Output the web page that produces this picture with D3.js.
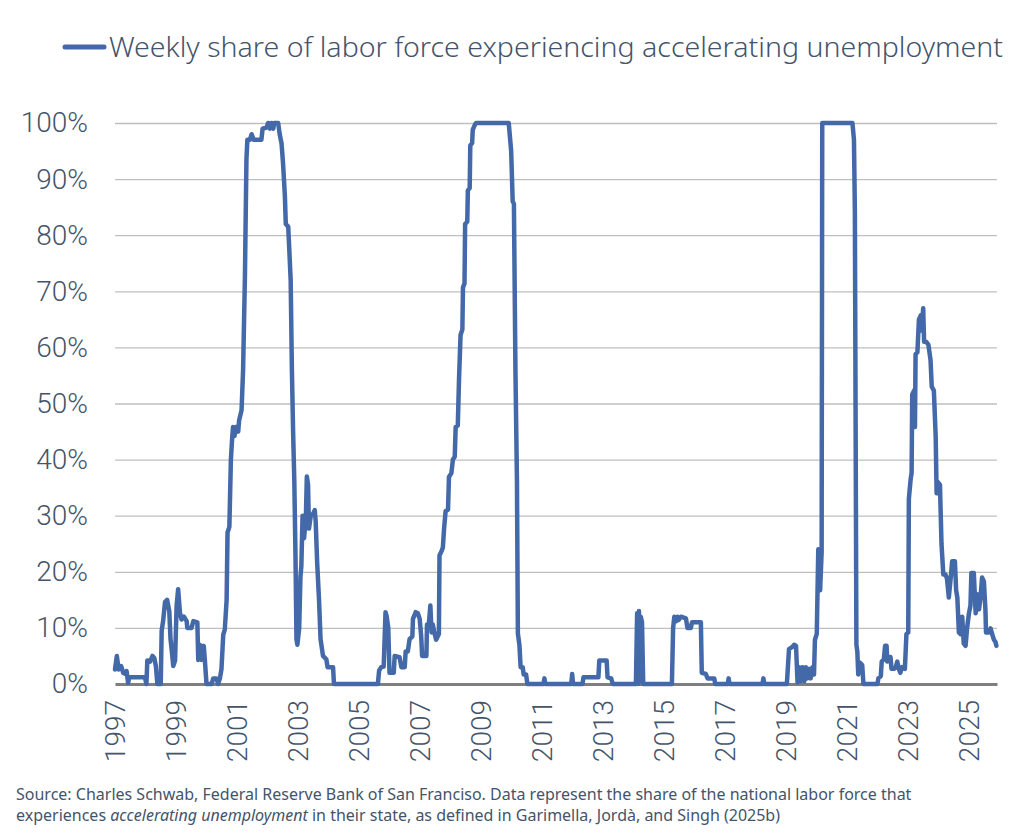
<!DOCTYPE html>
<html>
<head>
<meta charset="utf-8">
<script src="https://cdn.jsdelivr.net/npm/d3@7"></script>
<style>
  body { margin: 0; background: #fff; }
  #viz { width: 1021px; height: 834px; }
  text { font-family: "Noto Sans", Roboto, sans-serif; fill: #44546a; }
</style>
</head>
<body>
<div id="viz"></div>
<script>
// week position as decimal year
var weekYears = [
  1997.00, 1997.06, 1997.12, 1997.20, 1997.27, 1997.33, 1997.38, 1997.43, 1997.47, 1997.98,
  1998.03, 1998.06, 1998.15, 1998.23, 1998.29, 1998.34, 1998.39, 1998.50, 1998.53, 1998.58,
  1998.64, 1998.71, 1998.78, 1998.82, 1998.86, 1998.91, 1998.97, 1999.02, 1999.07, 1999.13,
  1999.18, 1999.26, 1999.35, 1999.37, 1999.51, 1999.57, 1999.70, 1999.73, 1999.78, 1999.84,
  1999.91, 1999.95, 2000.00, 2000.17, 2000.22, 2000.33, 2000.38, 2000.44, 2000.49, 2000.55,
  2000.60, 2000.66, 2000.69, 2000.75, 2000.80, 2000.84, 2000.87, 2000.92, 2000.96, 2001.04,
  2001.07, 2001.15, 2001.20, 2001.26, 2001.31, 2001.34, 2001.42, 2001.48, 2001.55, 2001.80,
  2001.84, 2001.97, 2002.02, 2002.08, 2002.13, 2002.19, 2002.22, 2002.35, 2002.40, 2002.46,
  2002.51, 2002.57, 2002.60, 2002.68, 2002.71, 2002.76, 2002.80, 2002.84, 2002.88, 2002.92,
  2002.95, 2002.98, 2003.04, 2003.08, 2003.11, 2003.15, 2003.20, 2003.26, 2003.29, 2003.33,
  2003.36, 2003.42, 2003.50, 2003.55, 2003.58, 2003.63, 2003.69, 2003.74, 2003.82, 2003.93,
  2003.97, 2004.15, 2004.18, 2005.62, 2005.66, 2005.73, 2005.81, 2005.87, 2005.91, 2005.96,
  2006.00, 2006.14, 2006.17, 2006.33, 2006.39, 2006.50, 2006.53, 2006.60, 2006.66, 2006.75,
  2006.77, 2006.86, 2006.93, 2006.99, 2007.04, 2007.07, 2007.21, 2007.23, 2007.29, 2007.34,
  2007.38, 2007.42, 2007.47, 2007.53, 2007.62, 2007.64, 2007.70, 2007.75, 2007.79, 2007.84,
  2007.92, 2007.95, 2008.03, 2008.08, 2008.14, 2008.17, 2008.24, 2008.28, 2008.33, 2008.39,
  2008.41, 2008.46, 2008.48, 2008.55, 2008.57, 2008.63, 2008.65, 2008.71, 2008.73, 2008.81,
  2008.84, 2009.91, 2009.99, 2010.04, 2010.08, 2010.13, 2010.18, 2010.21, 2010.26, 2010.30,
  2010.37, 2010.40, 2010.48, 2010.52, 2011.05, 2011.08, 2011.11, 2011.96, 2011.99, 2012.02,
  2012.33, 2012.36, 2012.85, 2012.88, 2013.12, 2013.15, 2013.27, 2013.32, 2014.08, 2014.12,
  2014.15, 2014.18, 2014.21, 2014.24, 2014.28, 2014.32, 2015.26, 2015.30, 2015.34, 2015.40,
  2015.44, 2015.48, 2015.56, 2015.72, 2015.77, 2015.88, 2015.92, 2016.21, 2016.24, 2016.37,
  2016.43, 2016.65, 2016.68, 2017.09, 2017.12, 2017.15, 2018.23, 2018.26, 2018.29, 2019.03,
  2019.10, 2019.21, 2019.27, 2019.33, 2019.38, 2019.43, 2019.48, 2019.54, 2019.60, 2019.65,
  2019.70, 2019.76, 2019.81, 2019.87, 2019.92, 2019.95, 2020.01, 2020.06, 2020.12, 2020.17,
  2020.19, 2021.18, 2021.23, 2021.26, 2021.31, 2021.34, 2021.37, 2021.43, 2021.50, 2021.54,
  2022.00, 2022.03, 2022.11, 2022.14, 2022.21, 2022.25, 2022.30, 2022.32, 2022.38, 2022.43,
  2022.46, 2022.55, 2022.60, 2022.65, 2022.70, 2022.75, 2022.81, 2022.90, 2022.95, 2023.01,
  2023.03, 2023.09, 2023.12, 2023.14, 2023.20, 2023.23, 2023.25, 2023.31, 2023.36, 2023.42,
  2023.45, 2023.50, 2023.53, 2023.60, 2023.67, 2023.74, 2023.78, 2023.85, 2023.91, 2023.94,
  2023.98, 2024.05, 2024.10, 2024.16, 2024.23, 2024.28, 2024.34, 2024.40, 2024.45, 2024.54,
  2024.58, 2024.62, 2024.67, 2024.72, 2024.78, 2024.83, 2024.89, 2024.94, 2025.00, 2025.05,
  2025.08, 2025.16, 2025.22, 2025.27, 2025.33, 2025.38, 2025.43, 2025.49, 2025.54, 2025.56,
  2025.65, 2025.71, 2025.76, 2025.82, 2025.87, 2025.90
];

// share of labor force (%), same order as weekYears
var shareValues = [
  2.6, 5.0, 2.6, 3.2, 2.0, 1.8, 2.3, 0.2, 1.2, 1.2,
  0, 4.2, 4.0, 5.0, 4.6, 3.2, 0, 0, 9.5, 11.3,
  14.6, 15.0, 13.0, 8.0, 6.0, 3.2, 4.2, 13.9, 16.9, 12.7,
  11.5, 12.0, 11.2, 10.0, 10.0, 11.2, 11.0, 4.3, 7.0, 4.3,
  6.8, 4.0, 0, 0, 1.0, 1.0, 0, 1.0, 2.6, 8.8,
  9.7, 15, 27, 28, 40, 43.7, 45.8, 44.2, 45.8, 45,
  47, 48.8, 56, 72.6, 93.5, 97, 97, 98, 97, 97,
  99, 99.2, 100, 99, 100, 99, 100, 100, 98, 96.4,
  92.8, 87, 82, 81.5, 78, 72, 56, 45, 36, 22,
  8, 7, 10, 19, 21, 30, 26, 30, 37, 35.5,
  27.7, 30, 30.4, 31, 29, 21.5, 15, 8, 5, 4.4,
  3, 3, 0, 0, 2.4, 3, 3.1, 12.8, 12, 10,
  2, 2, 5, 4.8, 3, 3, 5.8, 5.8, 8, 8.5,
  11.6, 12.8, 12.6, 11.6, 8.5, 5, 5, 10.6, 10.6, 14,
  9.2, 10.6, 9.2, 7.9, 8.9, 22.9, 23.6, 24.3, 27.7, 30.8,
  31.1, 36.9, 37.6, 40, 40.5, 45.8, 46.1, 54.3, 62.2, 63.2,
  70.7, 71.4, 82, 82.4, 88, 88.4, 96, 96.4, 98.8, 99.8,
  100, 100, 95, 86, 85.6, 56, 36, 9, 7, 3,
  3, 1.7, 1.7, 0, 0, 1, 0, 0, 1.8, 0,
  0, 1.2, 1.2, 4.2, 4.2, 1.2, 1.0, 0, 0, 12.6,
  0, 13, 0.5, 12, 11, 0, 0, 10, 12, 11.2,
  12, 11.4, 12, 11.7, 10, 10, 11, 11, 2, 1.8,
  1, 1, 0, 0, 1, 0, 0, 1, 0, 0,
  6.2, 6.6, 7.0, 6.8, 0.3, 3, 0.5, 3, 0.5, 3,
  1, 2.7, 1, 3, 1.7, 7.9, 8.9, 24, 16.7, 23.5,
  100, 100, 97, 84, 7, 5.8, 1.7, 3.8, 3.4, 0,
  0, 1, 1.4, 4, 4.4, 6.8, 6.8, 4, 4.8, 4.8,
  2.7, 2.7, 3, 4, 2.7, 2, 3, 2.7, 8.9, 9.2,
  33, 36.6, 37.6, 51.6, 52.3, 45.8, 58.8, 59.1, 65, 65.7,
  63, 67, 61, 61, 60.5, 57.8, 53, 52.3, 44, 34,
  36, 35.5, 25, 19.5, 19.5, 18.8, 15.4, 18.8, 21.9, 21.9,
  16.7, 15.4, 9.2, 8.9, 12, 7.2, 6.8, 10, 12.6, 14,
  19.8, 19.8, 12.6, 16, 13.3, 15.4, 19, 18.3, 13.3, 9.2,
  9.2, 9.9, 8.9, 7.9, 7.5, 6.8
];

var yearTicks = [1997, 1999, 2001, 2003, 2005, 2007, 2009, 2011, 2013, 2015, 2017, 2019, 2021, 2023, 2025];
var shareTicks = [0, 10, 20, 30, 40, 50, 60, 70, 80, 90, 100];
var seriesName = "Weekly share of labor force experiencing accelerating unemployment";

var margin = { top: 123, right: 24, bottom: 150, left: 115 };
var totalWidth = 1021, totalHeight = 834;
var width = totalWidth - margin.left - margin.right;
var height = totalHeight - margin.top - margin.bottom;
var lineColor = '#4469a9';

var svg = d3.select('#viz').append('svg')
    .attr('width', totalWidth)
    .attr('height', totalHeight);

var g = svg.append('g')
    .attr('transform', 'translate(' + margin.left + ',' + margin.top + ')');

var x = d3.scaleLinear().domain([1997, 2025.92]).range([0, width]);
var y = d3.scaleLinear().domain([0, 100]).range([height, 0]);

// gridlines
g.append('g')
    .attr('class', 'grid')
    .call(d3.axisLeft(y).tickValues(shareTicks.slice(1)).tickSize(-width).tickFormat(''))
    .call(function(s) {
        s.select('.domain').remove();
        s.selectAll('line').attr('stroke', '#bfbfbf').attr('stroke-width', 1.3);
    });

// y labels
g.append('g')
    .attr('class', 'y-axis')
    .call(d3.axisLeft(y).tickValues(shareTicks).tickSize(0).tickPadding(27)
        .tickFormat(function(d) { return d + '%'; }))
    .call(function(s) {
        s.select('.domain').remove();
        s.selectAll('text')
            .style('font-family', 'Roboto, "Noto Sans", sans-serif')
            .style('font-size', '28px')
            .style('font-weight', 300)
            .attr('fill', '#44546a');
    });

// x axis with rotated year labels
g.append('g')
    .attr('class', 'x-axis')
    .attr('transform', 'translate(0,' + height + ')')
    .call(d3.axisBottom(x).tickValues(yearTicks).tickSize(0).tickFormat(d3.format('d')))
    .call(function(s) {
        s.select('.domain').attr('stroke', '#7f7f7f').attr('stroke-width', 3);
        s.selectAll('text')
            .style('font-family', 'Roboto, "Noto Sans", sans-serif')
            .style('font-size', '28px')
            .style('font-weight', 300)
            .attr('fill', '#44546a')
            .attr('text-anchor', 'end')
            .attr('transform', 'translate(0,16) rotate(-90)')
            .attr('x', 0)
            .attr('y', 0)
            .attr('dy', '0.35em');
    });

var valueline = d3.line()
    .x(function(d, i) { return x(weekYears[i]); })
    .y(function(d) { return y(d); });

g.append('path')
    .attr('class', 'share-line')
    .attr('fill', 'none')
    .attr('stroke', lineColor)
    .attr('stroke-width', 4.5)
    .attr('stroke-linejoin', 'round')
    .attr('stroke-linecap', 'round')
    .attr('d', valueline(shareValues));

// legend
var legend = svg.append('g').attr('class', 'legend');
legend.append('line')
    .attr('x1', 65).attr('x2', 104)
    .attr('y1', 47).attr('y2', 47)
    .attr('stroke', lineColor)
    .attr('stroke-width', 5)
    .attr('stroke-linecap', 'round');
legend.append('text')
    .attr('x', 109)
    .attr('y', 57)
    .style('font-size', '27px')
    .style('font-weight', 300)
    .attr('textLength', 894)
    .attr('lengthAdjust', 'spacingAndGlyphs')
    .text(seriesName);

// source note
var note = svg.append('g').attr('class', 'note')
    .style('font-size', '16px');
note.append('text')
    .attr('x', 16).attr('y', 800)
    .text('Source: Charles Schwab, Federal Reserve Bank of San Franciso. Data represent the share of the national labor force that');
var line2 = note.append('text').attr('x', 16).attr('y', 821);
line2.append('tspan').text('experiences ');
line2.append('tspan').style('font-style', 'italic').text('accelerating unemployment');
line2.append('tspan').text(' in their state, as defined in Garimella, Jordà, and Singh (2025b)');
</script>
</body>
</html>
